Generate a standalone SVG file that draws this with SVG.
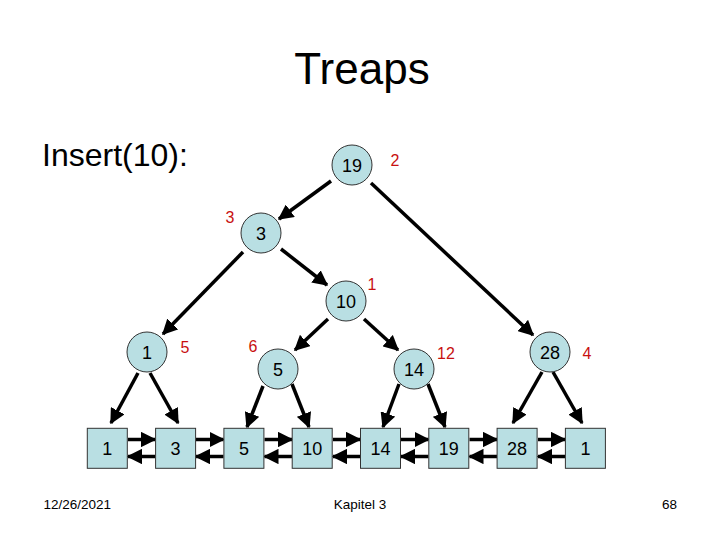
<svg xmlns="http://www.w3.org/2000/svg" width="720" height="540" viewBox="0 0 720 540">
<style>
text{font-family:"Liberation Sans",Arial,sans-serif;}
.n{fill:#b9dfe3;stroke:#333;stroke-width:1;}
.t{font-size:18px;fill:#000;text-anchor:middle;}
.p{font-size:16px;fill:#c81010;text-anchor:middle;}
.e{stroke:#000;stroke-width:3.5;fill:none;marker-end:url(#ah);}
.f{font-size:13.5px;fill:#000;}
</style>
<defs>
<marker id="ah" markerWidth="4.4" markerHeight="4.4" refX="4" refY="2.2" orient="auto" markerUnits="strokeWidth">
<path d="M0,0 L4.4,2.2 L0,4.4 Z" fill="#000"/>
</marker>
</defs>
<rect width="720" height="540" fill="#fff"/>
<text x="362" y="84" font-size="44" text-anchor="middle">Treaps</text>
<text x="42" y="166" font-size="32">Insert(10):</text>

<g id="connectors">
<line class="e" x1="331" y1="181" x2="279" y2="219"/>
<line class="e" x1="371" y1="183" x2="533" y2="335"/>
<line class="e" x1="243" y1="252" x2="163" y2="334"/>
<line class="e" x1="281" y1="249" x2="327" y2="285"/>
<line class="e" x1="328" y1="319" x2="295" y2="350"/>
<line class="e" x1="364" y1="319" x2="398" y2="350"/>
<line class="e" x1="138" y1="373" x2="111" y2="423"/>
<line class="e" x1="150" y1="373" x2="178" y2="423"/>
<line class="e" x1="263" y1="386" x2="247" y2="427"/>
<line class="e" x1="292" y1="384" x2="309" y2="427"/>
<line class="e" x1="399" y1="384" x2="383" y2="427"/>
<line class="e" x1="428" y1="384" x2="445" y2="427"/>
<line class="e" x1="542" y1="372" x2="513" y2="423"/>
<line class="e" x1="553" y1="372" x2="582" y2="423"/>
<line class="e" x1="128" y1="439.5" x2="155" y2="439.5"/>
<line class="e" x1="155" y1="456.5" x2="128" y2="456.5"/>
<line class="e" x1="196" y1="439.5" x2="223.5" y2="439.5"/>
<line class="e" x1="223.5" y1="456.5" x2="196" y2="456.5"/>
<line class="e" x1="264.5" y1="439.5" x2="292" y2="439.5"/>
<line class="e" x1="292" y1="456.5" x2="264.5" y2="456.5"/>
<line class="e" x1="333" y1="439.5" x2="360" y2="439.5"/>
<line class="e" x1="360" y1="456.5" x2="333" y2="456.5"/>
<line class="e" x1="401" y1="439.5" x2="428.5" y2="439.5"/>
<line class="e" x1="428.5" y1="456.5" x2="401" y2="456.5"/>
<line class="e" x1="469.5" y1="439.5" x2="497" y2="439.5"/>
<line class="e" x1="497" y1="456.5" x2="469.5" y2="456.5"/>
<line class="e" x1="538" y1="439.5" x2="565" y2="439.5"/>
<line class="e" x1="565" y1="456.5" x2="538" y2="456.5"/>
</g>

<g id="node19"><circle class="n" cx="352" cy="165" r="20"/><text class="t" x="352" y="171.5">19</text><text class="p" x="395" y="166">2</text></g>
<g id="node3"><circle class="n" cx="261" cy="233" r="20"/><text class="t" x="261" y="239.5">3</text><text class="p" x="230" y="223">3</text></g>
<g id="node10"><circle class="n" cx="346" cy="301" r="20"/><text class="t" x="346" y="307.5">10</text><text class="p" x="372" y="290">1</text></g>
<g id="node1"><circle class="n" cx="147" cy="352" r="20"/><text class="t" x="147" y="358.5">1</text><text class="p" x="185" y="353">5</text></g>
<g id="node5"><circle class="n" cx="278" cy="369" r="20"/><text class="t" x="278" y="375.5">5</text><text class="p" x="253" y="352">6</text></g>
<g id="node14"><circle class="n" cx="414" cy="369" r="20"/><text class="t" x="414" y="375.5">14</text><text class="p" x="446" y="359">12</text></g>
<g id="node28"><circle class="n" cx="550" cy="352" r="20"/><text class="t" x="550" y="358.5">28</text><text class="p" x="587" y="359">4</text></g>

<g id="leaf1"><rect class="n" x="87.3" y="428.3" width="40" height="40"/><text class="t" x="107.3" y="454.8">1</text></g>
<g id="leaf3"><rect class="n" x="155.6" y="428.3" width="40" height="40"/><text class="t" x="175.6" y="454.8">3</text></g>
<g id="leaf5"><rect class="n" x="223.9" y="428.3" width="40" height="40"/><text class="t" x="243.9" y="454.8">5</text></g>
<g id="leaf10"><rect class="n" x="292.2" y="428.3" width="40" height="40"/><text class="t" x="312.2" y="454.8">10</text></g>
<g id="leaf14"><rect class="n" x="360.5" y="428.3" width="40" height="40"/><text class="t" x="380.5" y="454.8">14</text></g>
<g id="leaf19"><rect class="n" x="428.8" y="428.3" width="40" height="40"/><text class="t" x="448.8" y="454.8">19</text></g>
<g id="leaf28"><rect class="n" x="497.1" y="428.3" width="40" height="40"/><text class="t" x="517.1" y="454.8">28</text></g>
<g id="leaf1b"><rect class="n" x="565.4" y="428.3" width="40" height="40"/><text class="t" x="585.4" y="454.8">1</text></g>

<text class="f" x="43.5" y="509">12/26/2021</text>
<text class="f" x="360" y="509" text-anchor="middle">Kapitel 3</text>
<text class="f" x="677" y="509" text-anchor="end">68</text>
</svg>
